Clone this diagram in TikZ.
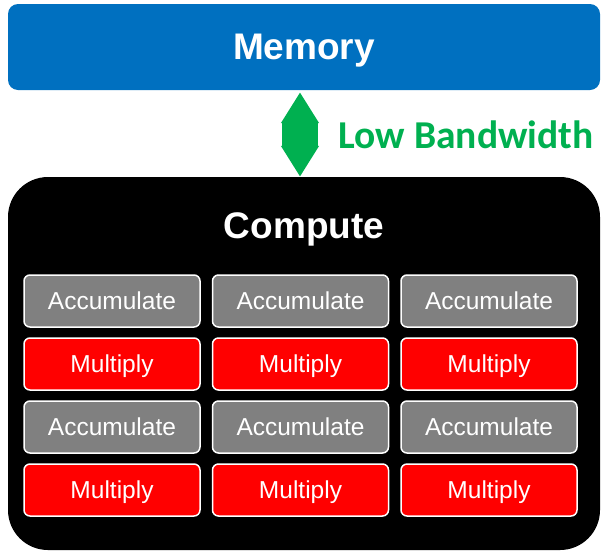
\documentclass[tikz,border=0pt]{standalone}
\usepackage{fontspec}
\setmainfont{Liberation Sans}
\newfontfamily\bwfont{Carlito}
\usetikzlibrary{arrows.meta, positioning}
\definecolor{memblue}{RGB}{0, 112, 192}
\definecolor{bwgreen}{RGB}{0, 176, 80}
\definecolor{mulred}{RGB}{255, 0, 0}
\definecolor{accgray}{RGB}{128, 128, 128}

\begin{document}
\begin{tikzpicture}[
        x=1pt, y=-1pt,
        bigbox/.style={rectangle, inner sep=0pt, minimum width=592pt, text=white, text depth=0pt, font=\fontsize{37}{40}\selectfont\bfseries},
        unit/.style={rectangle, rounded corners=6pt, draw=white, line width=1.5pt, inner sep=0pt, minimum width=176pt, minimum height=52pt, text=white, text depth=0pt, font=\fontsize{24.5}{28}\selectfont},
        bandwidth/.style={{Triangle[width=36pt, length=31pt]}-{Triangle[width=36pt, length=31pt]}, line width=36pt, bwgreen}
    ]
        \useasboundingbox (0,0) rectangle (601,552);

        % Nodes
        \node (memory) [bigbox, fill=memblue, rounded corners=10pt, minimum height=86pt] at (304,47) {Memory};
        \node (compute) [bigbox, fill=black, rounded corners=40pt, minimum height=373pt] at (304,363.5) {};
        \node (title) [bigbox, minimum width=0pt] at (304,226) {Compute};

        % Units
        \foreach \c/\x in {1/112, 2/300.5, 3/489} {
            \foreach \r/\y in {1/301, 2/427} {
                \node (acc-\r-\c) [unit, fill=accgray] at (\x,\y) {Accumulate};
                \node (mul-\r-\c) [unit, fill=mulred] at (\x,\y+63) {Multiply};
            }
        }

        % Arrow
        \draw [bandwidth] ([xshift=-4pt, yshift=-2pt]memory.south) -- ([xshift=-4pt]compute.north);

        % Annotation
        \node (bwlabel) [anchor=west, text=bwgreen, font=\bwfont\fontsize{39.5}{42}\selectfont\bfseries] at (335,135) {Low Bandwidth};
    \end{tikzpicture}
\end{document}
